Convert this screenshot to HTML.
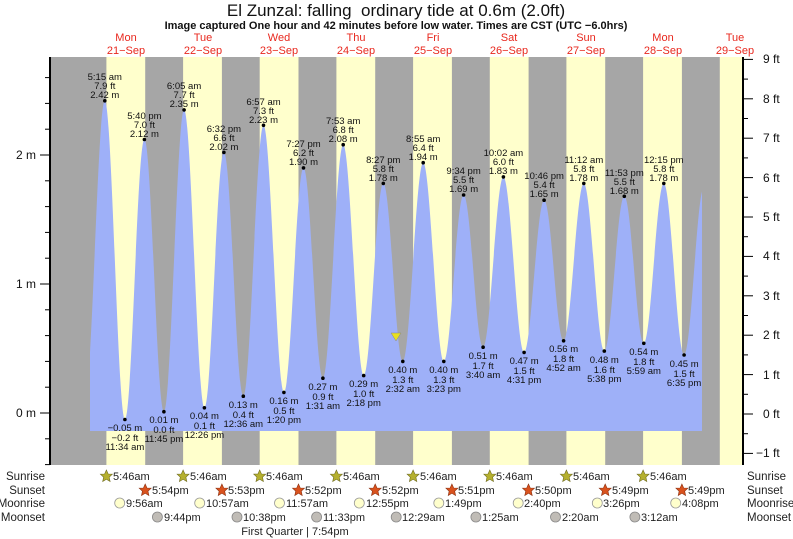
<!DOCTYPE html>
<html><head><meta charset="utf-8"><style>
body{margin:0;background:#fff;}
svg{display:block;font-family:"Liberation Sans",Arial,sans-serif;}
.t{font-size:9.5px;fill:#111;text-anchor:middle;}
.d{font-size:11px;fill:#e8281e;text-anchor:middle;}
.ax{font-size:12px;fill:#111;}
.r{font-size:11.5px;fill:#222;}
.s{font-size:11px;fill:#222;}
</style></head><body>
<svg width="793" height="539" viewBox="0 0 793 539">
<rect width="793" height="539" fill="#fff"/>
<rect x="50" y="57" width="693" height="408" fill="#a6a6a6"/>
<g fill="#ffffcc">
<rect x="106.4" y="57" width="38.8" height="408"/>
<rect x="183.1" y="57" width="38.8" height="408"/>
<rect x="259.7" y="57" width="38.8" height="408"/>
<rect x="336.4" y="57" width="38.8" height="408"/>
<rect x="413.1" y="57" width="38.8" height="408"/>
<rect x="489.8" y="57" width="38.8" height="408"/>
<rect x="566.4" y="57" width="38.8" height="408"/>
<rect x="643.1" y="57" width="38.8" height="408"/>
<rect x="719.8" y="57" width="23.2" height="408"/>
</g>
<defs><clipPath id="cp"><rect x="90" y="0" width="612" height="431"/></clipPath></defs>
<path clip-path="url(#cp)" fill="#9eb0f8" d="M84.8,431 L84.8,400.1
C92,400.1 97.6,100.8 104.8,100.8
C112,100.8 117.7,419.5 124.9,419.5
C132.1,419.5 137.2,139.5 144.4,139.5
C151.6,139.5 156.7,411.7 163.9,411.7
C171.1,411.7 176.9,109.9 184.1,109.9
C191.3,109.9 197.2,407.8 204.4,407.8
C211.6,407.8 216.7,152.4 223.9,152.4
C231.1,152.4 236.1,396.2 243.3,396.2
C250.5,396.2 256.3,125.3 263.5,125.3
C270.7,125.3 276.7,392.4 283.9,392.4
C291.1,392.4 296.3,167.9 303.5,167.9
C310.7,167.9 315.7,378.2 322.9,378.2
C330.1,378.2 336,144.7 343.2,144.7
C350.4,144.7 356.5,375.6 363.7,375.6
C370.9,375.6 376.1,183.4 383.3,183.4
C390.5,183.4 395.6,361.4 402.8,361.4
C410,361.4 416,162.7 423.2,162.7
C430.4,162.7 436.6,361.4 443.8,361.4
C451,361.4 456.4,195 463.6,195
C470.8,195 475.9,347.2 483.1,347.2
C490.3,347.2 496.2,176.9 503.4,176.9
C510.6,176.9 516.9,352.4 524.1,352.4
C531.3,352.4 536.9,200.2 544.1,200.2
C551.3,200.2 556.4,340.8 563.6,340.8
C570.8,340.8 576.6,183.4 583.8,183.4
C591,183.4 597.1,351.1 604.3,351.1
C611.5,351.1 617.1,196.3 624.3,196.3
C631.5,196.3 636.6,343.3 643.8,343.3
C651,343.3 656.6,183.4 663.8,183.4
C671,183.4 676.9,355 684.1,355
C691.3,355 696.8,187.3 704,187.3
L704,431 Z"/>
<!-- axes -->
<g stroke="#000" stroke-width="1">
<line x1="50" y1="57" x2="50" y2="465" stroke-width="2"/>
<line x1="743" y1="57" x2="743" y2="465" stroke-width="2"/>
<line x1="40" y1="413" x2="50" y2="413"/><line x1="40" y1="284" x2="50" y2="284"/><line x1="40" y1="155" x2="50" y2="155"/>
<line x1="45" y1="438.8" x2="50" y2="438.8"/><line x1="45" y1="464.6" x2="50" y2="464.6"/>
<line x1="45" y1="387.2" x2="50" y2="387.2"/><line x1="45" y1="361.4" x2="50" y2="361.4"/><line x1="45" y1="335.6" x2="50" y2="335.6"/><line x1="45" y1="309.8" x2="50" y2="309.8"/>
<line x1="45" y1="258.2" x2="50" y2="258.2"/><line x1="45" y1="232.4" x2="50" y2="232.4"/><line x1="45" y1="206.6" x2="50" y2="206.6"/><line x1="45" y1="180.8" x2="50" y2="180.8"/>
<line x1="45" y1="129.2" x2="50" y2="129.2"/><line x1="45" y1="103.4" x2="50" y2="103.4"/><line x1="45" y1="77.6" x2="50" y2="77.6"/>
<line x1="743" y1="453.4" x2="753" y2="453.4"/><line x1="743" y1="414" x2="753" y2="414"/><line x1="743" y1="374.6" x2="753" y2="374.6"/><line x1="743" y1="335.2" x2="753" y2="335.2"/><line x1="743" y1="295.8" x2="753" y2="295.8"/><line x1="743" y1="256.4" x2="753" y2="256.4"/><line x1="743" y1="217" x2="753" y2="217"/><line x1="743" y1="177.6" x2="753" y2="177.6"/><line x1="743" y1="138.2" x2="753" y2="138.2"/><line x1="743" y1="98.8" x2="753" y2="98.8"/><line x1="743" y1="59.4" x2="753" y2="59.4"/>
<line x1="743" y1="433.7" x2="748" y2="433.7"/><line x1="743" y1="394.3" x2="748" y2="394.3"/><line x1="743" y1="354.9" x2="748" y2="354.9"/><line x1="743" y1="315.5" x2="748" y2="315.5"/><line x1="743" y1="276.1" x2="748" y2="276.1"/><line x1="743" y1="236.7" x2="748" y2="236.7"/><line x1="743" y1="197.3" x2="748" y2="197.3"/><line x1="743" y1="157.9" x2="748" y2="157.9"/><line x1="743" y1="118.5" x2="748" y2="118.5"/><line x1="743" y1="79.1" x2="748" y2="79.1"/>
</g>
<g class="ax" text-anchor="end">
<text x="36" y="417">0 m</text><text x="36" y="288">1 m</text><text x="36" y="159">2 m</text>
</g>
<g class="ax">
<text x="756" y="457">−1 ft</text><text x="763" y="418">0 ft</text><text x="763" y="379">1 ft</text><text x="763" y="339">2 ft</text><text x="763" y="300">3 ft</text><text x="763" y="260">4 ft</text><text x="763" y="221">5 ft</text><text x="763" y="182">6 ft</text><text x="763" y="142">7 ft</text><text x="763" y="103">8 ft</text><text x="763" y="63">9 ft</text>
</g>
<!-- titles -->
<text x="396" y="16" text-anchor="middle" style="font-size:17px;fill:#111;white-space:pre">El Zunzal: falling  ordinary tide at 0.6m (2.0ft)</text>
<text x="396" y="29" text-anchor="middle" style="font-size:11px;font-weight:bold;fill:#111">Image captured One hour and 42 minutes before low water. Times are CST (UTC −6.0hrs)</text>
<g class="d">
<text x="126" y="41">Mon</text><text x="126" y="54">21−Sep</text>
<text x="203" y="41">Tue</text><text x="203" y="54">22−Sep</text>
<text x="279" y="41">Wed</text><text x="279" y="54">23−Sep</text>
<text x="356" y="41">Thu</text><text x="356" y="54">24−Sep</text>
<text x="433" y="41">Fri</text><text x="433" y="54">25−Sep</text>
<text x="509" y="41">Sat</text><text x="509" y="54">26−Sep</text>
<text x="586" y="41">Sun</text><text x="586" y="54">27−Sep</text>
<text x="663" y="41">Mon</text><text x="663" y="54">28−Sep</text>
<text x="735" y="41">Tue</text><text x="735" y="54">29−Sep</text>
</g>
<!-- dots -->
<g fill="#000">
<circle cx="104.8" cy="100.8" r="1.8"/><circle cx="144.4" cy="139.5" r="1.8"/><circle cx="184.1" cy="109.9" r="1.8"/><circle cx="223.9" cy="152.4" r="1.8"/><circle cx="263.5" cy="125.3" r="1.8"/><circle cx="303.5" cy="167.9" r="1.8"/><circle cx="343.2" cy="144.7" r="1.8"/><circle cx="383.3" cy="183.4" r="1.8"/><circle cx="423.2" cy="162.7" r="1.8"/><circle cx="463.6" cy="195" r="1.8"/><circle cx="503.4" cy="176.9" r="1.8"/><circle cx="544.1" cy="200.2" r="1.8"/><circle cx="583.8" cy="183.4" r="1.8"/><circle cx="624.3" cy="196.3" r="1.8"/><circle cx="663.8" cy="183.4" r="1.8"/>
<circle cx="124.9" cy="419.5" r="1.8"/><circle cx="163.9" cy="411.7" r="1.8"/><circle cx="204.4" cy="407.8" r="1.8"/><circle cx="243.3" cy="396.2" r="1.8"/><circle cx="283.9" cy="392.4" r="1.8"/><circle cx="322.9" cy="378.2" r="1.8"/><circle cx="363.7" cy="375.6" r="1.8"/><circle cx="402.8" cy="361.4" r="1.8"/><circle cx="443.8" cy="361.4" r="1.8"/><circle cx="483.1" cy="347.2" r="1.8"/><circle cx="524.1" cy="352.4" r="1.8"/><circle cx="563.6" cy="340.8" r="1.8"/><circle cx="604.3" cy="351.1" r="1.8"/><circle cx="643.8" cy="343.3" r="1.8"/><circle cx="684.1" cy="355" r="1.8"/>
</g>
<polygon points="391,333 401,333 396,341" fill="#e8e020" stroke="#888" stroke-width="0.5"/>
<!-- high labels -->
<g class="t">
<text x="104.8" y="80">5:15 am</text><text x="104.8" y="89">7.9 ft</text><text x="104.8" y="98">2.42 m</text>
<text x="144.4" y="119">5:40 pm</text><text x="144.4" y="128">7.0 ft</text><text x="144.4" y="137">2.12 m</text>
<text x="184.1" y="89">6:05 am</text><text x="184.1" y="98">7.7 ft</text><text x="184.1" y="107">2.35 m</text>
<text x="223.9" y="132">6:32 pm</text><text x="223.9" y="141">6.6 ft</text><text x="223.9" y="150">2.02 m</text>
<text x="263.5" y="105">6:57 am</text><text x="263.5" y="114">7.3 ft</text><text x="263.5" y="123">2.23 m</text>
<text x="303.5" y="147">7:27 pm</text><text x="303.5" y="156">6.2 ft</text><text x="303.5" y="165">1.90 m</text>
<text x="343.2" y="124">7:53 am</text><text x="343.2" y="133">6.8 ft</text><text x="343.2" y="142">2.08 m</text>
<text x="383.3" y="163">8:27 pm</text><text x="383.3" y="172">5.8 ft</text><text x="383.3" y="181">1.78 m</text>
<text x="423.2" y="142">8:55 am</text><text x="423.2" y="151">6.4 ft</text><text x="423.2" y="160">1.94 m</text>
<text x="463.6" y="174">9:34 pm</text><text x="463.6" y="183">5.5 ft</text><text x="463.6" y="192">1.69 m</text>
<text x="503.4" y="156">10:02 am</text><text x="503.4" y="165">6.0 ft</text><text x="503.4" y="174">1.83 m</text>
<text x="544.1" y="179">10:46 pm</text><text x="544.1" y="188">5.4 ft</text><text x="544.1" y="197">1.65 m</text>
<text x="583.8" y="163">11:12 am</text><text x="583.8" y="172">5.8 ft</text><text x="583.8" y="181">1.78 m</text>
<text x="624.3" y="176">11:53 pm</text><text x="624.3" y="185">5.5 ft</text><text x="624.3" y="194">1.68 m</text>
<text x="663.8" y="163">12:15 pm</text><text x="663.8" y="172">5.8 ft</text><text x="663.8" y="181">1.78 m</text>
</g>
<!-- low labels -->
<g class="t">
<text x="124.9" y="431">−0.05 m</text><text x="124.9" y="441">−0.2 ft</text><text x="124.9" y="450">11:34 am</text>
<text x="163.9" y="423">0.01 m</text><text x="163.9" y="433">0.0 ft</text><text x="163.9" y="442">11:45 pm</text>
<text x="204.4" y="419">0.04 m</text><text x="204.4" y="429">0.1 ft</text><text x="204.4" y="438">12:26 pm</text>
<text x="243.3" y="408">0.13 m</text><text x="243.3" y="418">0.4 ft</text><text x="243.3" y="427">12:36 am</text>
<text x="283.9" y="404">0.16 m</text><text x="283.9" y="414">0.5 ft</text><text x="283.9" y="423">1:20 pm</text>
<text x="322.9" y="390">0.27 m</text><text x="322.9" y="400">0.9 ft</text><text x="322.9" y="409">1:31 am</text>
<text x="363.7" y="387">0.29 m</text><text x="363.7" y="397">1.0 ft</text><text x="363.7" y="406">2:18 pm</text>
<text x="402.8" y="373">0.40 m</text><text x="402.8" y="383">1.3 ft</text><text x="402.8" y="392">2:32 am</text>
<text x="443.8" y="373">0.40 m</text><text x="443.8" y="383">1.3 ft</text><text x="443.8" y="392">3:23 pm</text>
<text x="483.1" y="359">0.51 m</text><text x="483.1" y="369">1.7 ft</text><text x="483.1" y="378">3:40 am</text>
<text x="524.1" y="364">0.47 m</text><text x="524.1" y="374">1.5 ft</text><text x="524.1" y="383">4:31 pm</text>
<text x="563.6" y="352">0.56 m</text><text x="563.6" y="362">1.8 ft</text><text x="563.6" y="371">4:52 am</text>
<text x="604.3" y="363">0.48 m</text><text x="604.3" y="373">1.6 ft</text><text x="604.3" y="382">5:38 pm</text>
<text x="643.8" y="355">0.54 m</text><text x="643.8" y="365">1.8 ft</text><text x="643.8" y="374">5:59 am</text>
<text x="684.1" y="367">0.45 m</text><text x="684.1" y="377">1.5 ft</text><text x="684.1" y="386">6:35 pm</text>
</g>
<!-- bottom rows labels -->
<g class="r" text-anchor="end">
<text x="45" y="480">Sunrise</text><text x="45" y="494">Sunset</text><text x="45" y="507">Moonrise</text><text x="45" y="521">Moonset</text>
</g>
<g class="r">
<text x="747" y="480">Sunrise</text><text x="747" y="494">Sunset</text><text x="747" y="507">Moonrise</text><text x="747" y="521">Moonset</text>
</g>
<defs>
<polygon id="star" points="0,-6 1.8,-2 6,-1.9 2.8,1.2 3.7,5.5 0,3.3 -3.7,5.5 -2.8,1.2 -6,-1.9 -1.8,-2"/>
</defs>
<g fill="#b5b02e" stroke="#6d6a20" stroke-width="0.6">
<use href="#star" x="106.4" y="476"/><use href="#star" x="183.1" y="476"/><use href="#star" x="259.7" y="476"/><use href="#star" x="336.4" y="476"/><use href="#star" x="413.1" y="476"/><use href="#star" x="489.8" y="476"/><use href="#star" x="566.4" y="476"/><use href="#star" x="643.1" y="476"/>
</g>
<g fill="#d9521e" stroke="#8a3010" stroke-width="0.6">
<use href="#star" x="145.2" y="490"/><use href="#star" x="221.9" y="490"/><use href="#star" x="298.5" y="490"/><use href="#star" x="375.2" y="490"/><use href="#star" x="451.9" y="490"/><use href="#star" x="528.5" y="490"/><use href="#star" x="605.2" y="490"/><use href="#star" x="681.9" y="490"/>
</g>
<g fill="#ffffcc" stroke="#999" stroke-width="0.8">
<circle cx="119.7" cy="503" r="5"/><circle cx="199.7" cy="503" r="5"/><circle cx="279.5" cy="503" r="5"/><circle cx="359.3" cy="503" r="5"/><circle cx="438.8" cy="503" r="5"/><circle cx="518.2" cy="503" r="5"/><circle cx="597.3" cy="503" r="5"/><circle cx="675.7" cy="503" r="5"/>
</g>
<g fill="#c0bcb6" stroke="#888" stroke-width="0.8">
<circle cx="157.4" cy="517" r="5"/><circle cx="237" cy="517" r="5"/><circle cx="316.6" cy="517" r="5"/><circle cx="396.2" cy="517" r="5"/><circle cx="475.9" cy="517" r="5"/><circle cx="555.5" cy="517" r="5"/><circle cx="634.9" cy="517" r="5"/>
</g>
<g class="s">
<text x="113" y="480">5:46am</text><text x="190" y="480">5:46am</text><text x="266" y="480">5:46am</text><text x="343" y="480">5:46am</text><text x="420" y="480">5:46am</text><text x="496" y="480">5:46am</text><text x="573" y="480">5:46am</text><text x="650" y="480">5:46am</text>
<text x="152" y="494">5:54pm</text><text x="228" y="494">5:53pm</text><text x="305" y="494">5:52pm</text><text x="382" y="494">5:52pm</text><text x="458" y="494">5:51pm</text><text x="535" y="494">5:50pm</text><text x="612" y="494">5:49pm</text><text x="688" y="494">5:49pm</text>
<text x="126" y="507">9:56am</text><text x="206" y="507">10:57am</text><text x="286" y="507">11:57am</text><text x="366" y="507">12:55pm</text><text x="445" y="507">1:49pm</text><text x="524" y="507">2:40pm</text><text x="603" y="507">3:26pm</text><text x="682" y="507">4:08pm</text>
<text x="164" y="521">9:44pm</text><text x="243" y="521">10:38pm</text><text x="323" y="521">11:33pm</text><text x="402" y="521">12:29am</text><text x="482" y="521">1:25am</text><text x="562" y="521">2:20am</text><text x="641" y="521">3:12am</text>
<text x="295" y="535" text-anchor="middle">First Quarter | 7:54pm</text>
</g>
</svg>
</body></html>
